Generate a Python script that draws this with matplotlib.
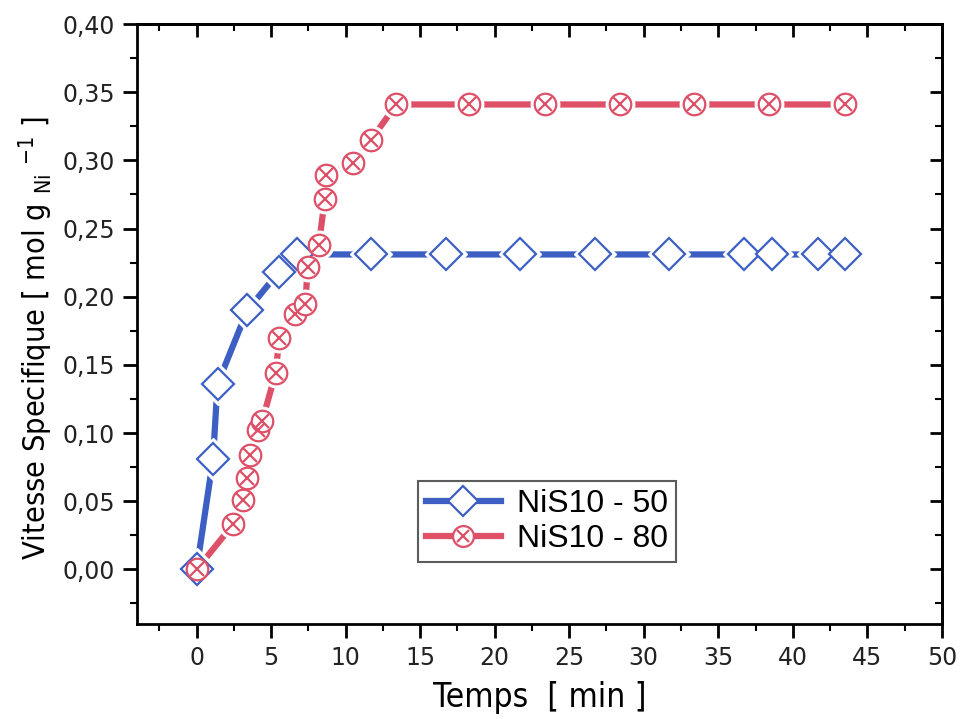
import matplotlib
matplotlib.use("Agg")
import matplotlib.pyplot as plt
from matplotlib.ticker import MultipleLocator, FuncFormatter

# NiS10 - 50
t_50 = [0.0, 1.1, 1.4, 3.4, 5.5, 6.7, 11.7, 16.7, 21.7, 26.7, 31.7, 36.7, 38.6, 41.7, 43.5]
v_50 = [0.0, 0.081, 0.136, 0.190, 0.218, 0.231, 0.231, 0.231, 0.231, 0.231, 0.231,
        0.231, 0.231, 0.231, 0.231]

# NiS10 - 80
t_80 = [0.0, 2.45, 3.1, 3.35, 3.6, 4.1, 4.4, 5.3, 5.55, 6.6, 7.3, 7.45, 8.2, 8.6, 8.7,
        10.5, 11.7, 13.4, 18.3, 23.4, 28.4, 33.4, 38.4, 43.5]
v_80 = [0.0, 0.033, 0.051, 0.067, 0.084, 0.102, 0.109, 0.144, 0.170, 0.187, 0.195,
        0.222, 0.238, 0.272, 0.289, 0.298, 0.315, 0.341, 0.341, 0.341, 0.341, 0.341,
        0.341, 0.341]

BLUE = "#3d5fc4"
RED = "#de4f68"

fig = plt.figure(figsize=(9.63, 7.19), dpi=100)
ax = fig.add_axes([0.1423, 0.1322, 0.8357, 0.8344])

for t, v, c, mk, ms in [(t_50, v_50, BLUE, "D", 16), (t_80, v_80, RED, "o", 15.5)]:
    ax.plot(t, v, color=c, lw=4.5, zorder=2)
    # white halo so the line breaks around each symbol
    ax.plot(t, v, ls="none", marker=mk, ms=ms + 5, mfc="white", mec="white", zorder=3)
    ax.plot(t, v, ls="none", marker=mk, ms=ms, mfc="white", mec=c, mew=1.6, zorder=4)
    if mk == "o":
        ax.plot(t, v, ls="none", marker="x", ms=ms * 0.62, mec=c, mew=1.6, zorder=5)

# legend handles (line + symbol)
h50, = ax.plot([], [], color=BLUE, lw=4.5, marker="D", ms=15, mfc="white", mec=BLUE, mew=1.6)
h80a, = ax.plot([], [], color=RED, lw=4.5, marker="o", ms=15, mfc="white", mec=RED, mew=1.6)
h80b, = ax.plot([], [], ls="none", marker="x", ms=9.3, mec=RED, mew=1.6)
leg = ax.legend([h50, (h80a, h80b)], ["NiS10 - 50", "NiS10 - 80"],
                loc="lower left", bbox_to_anchor=(0.349, 0.103), borderaxespad=0,
                frameon=True, fancybox=False, edgecolor="#333333", handlelength=2.35,
                handletextpad=0.5, borderpad=0.25, labelspacing=0.15,
                prop={"family": "Liberation Sans", "size": 23})
leg.get_frame().set_linewidth(1.5)

ax.set_xlim(-4, 50)
ax.set_ylim(-0.04, 0.40)
ax.xaxis.set_major_locator(MultipleLocator(5))
ax.xaxis.set_minor_locator(MultipleLocator(2.5))
ax.yaxis.set_major_locator(MultipleLocator(0.05))
ax.yaxis.set_minor_locator(MultipleLocator(0.025))
ax.yaxis.set_major_formatter(FuncFormatter(lambda v, p: f"{v:.2f}".replace(".", ",")))

for s in ax.spines.values():
    s.set_linewidth(2)
ax.tick_params(axis="both", which="major", length=10, width=2, labelsize=17,
               labelfontfamily="DejaVu Sans", labelcolor="#222222")
ax.tick_params(axis="both", which="minor", length=5, width=1.5)
ax.tick_params(axis="x", which="both", direction="out", top=False, pad=6)
ax.tick_params(axis="y", which="both", direction="out", right=False, pad=6)

# inward ticks on the top and right edges
axt = ax.secondary_xaxis("top")
axt.xaxis.set_major_locator(MultipleLocator(5))
axt.xaxis.set_minor_locator(MultipleLocator(2.5))
axt.tick_params(which="major", direction="in", length=9, width=2, labeltop=False)
axt.tick_params(which="minor", direction="in", length=5, width=1.5)
axt.spines["top"].set_linewidth(2)
axr = ax.secondary_yaxis("right")
axr.yaxis.set_major_locator(MultipleLocator(0.05))
axr.yaxis.set_minor_locator(MultipleLocator(0.025))
axr.tick_params(which="major", direction="in", length=9, width=2, labelright=False)
axr.tick_params(which="minor", direction="in", length=5, width=1.5)
axr.spines["right"].set_linewidth(2)

ax.set_xlabel("Temps  [ min ]", fontsize=24, labelpad=8,
              family="DejaVu Sans", fontstretch="condensed")
ax.set_ylabel(r"Vitesse Specifique [ mol g $_{\mathregular{Ni}}$ $^{\mathregular{-1}}$ ]",
              fontsize=22, family="DejaVu Sans", fontstretch="condensed")
ax.yaxis.set_label_coords(-0.102, 0.477)

fig.savefig("out.png", dpi=100)
